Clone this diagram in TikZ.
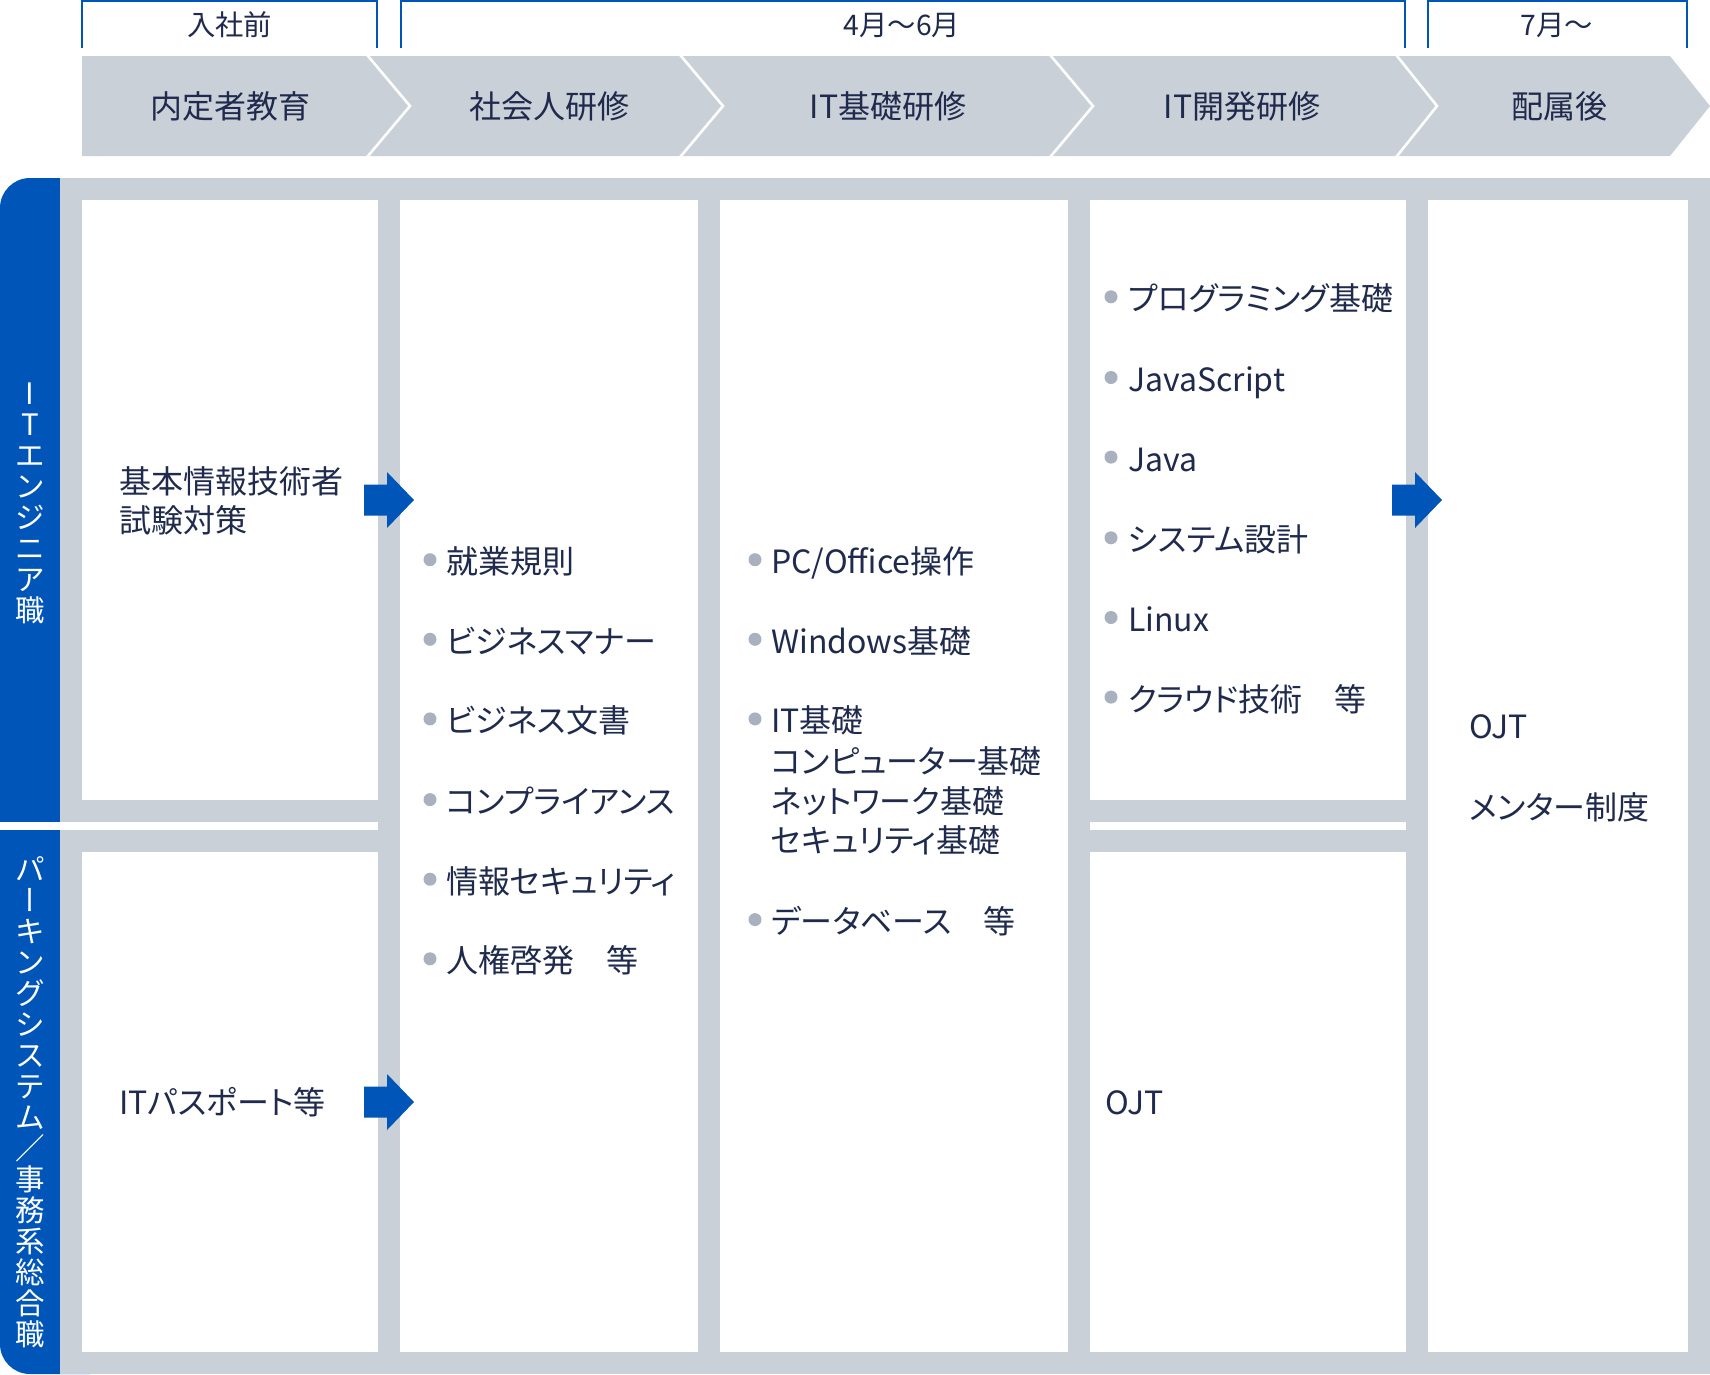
\documentclass[tikz,border=0pt]{standalone}
\usepackage{fontspec}
\usepackage{graphicx}
\setmainfont{Noto Sans CJK JP}
\newfontfamily\vertfont[RawFeature=+vert]{Noto Sans CJK JP}
\newfontfamily\bodyfont[RawFeature=+palt]{Noto Sans CJK JP}
\definecolor{bluec}{HTML}{0055B8}
\definecolor{greyc}{HTML}{C9D0D7}
\definecolor{navy}{HTML}{1F2A4D}
\definecolor{dotc}{HTML}{A9B0BE}
\newcommand\bitem[5]{%
  \fill[dotc] (#2,#4-2) circle[radius=6.5pt];
  \node[txt] (#1) at (#3,#4+12) {#5};}
\begin{document}
\begin{tikzpicture}[x=1pt,y=-1pt,
  txt/.style={anchor=base west, inner sep=0pt, text=navy, font=\bodyfont\fontsize{32}{40}\selectfont},
  lbl/.style={anchor=base, inner sep=0pt, text=navy, font=\fontsize{32}{40}\selectfont},
  blbl/.style={anchor=base, inner sep=0pt, text=navy, font=\fontsize{28.3}{34}\selectfont},
  brk/.style={draw=bluec, line width=2pt},
  vtxt/.style={align=center, inner sep=0pt, text=white, font=\fontsize{29.5}{31}\selectfont},
  sep/.style={draw=white, line width=2.6pt},
  wbox/.style={fill=white},
  barrow/.style={fill=bluec}]
\useasboundingbox (0,0) rectangle (1710,1374);
\fill[white] (0,0) rectangle (1710,1374);

% brackets
\draw[brk] (82,48) |- (377,1) -- (377,48);
\draw[brk] (401,48) |- (1405,1) -- (1405,48);
\draw[brk] (1428,48) |- (1687,1) -- (1687,48);
\node[blbl] (b1) at (229.5,35.5) {入社前};
\node[blbl] (b2) at (902,35.5) {4月～6月};
\node[blbl] (b3) at (1557,35.5) {7月～};

% chevron band
\fill[greyc] (82,56) -- (1670,56) -- (1710,106) -- (1670,156) -- (82,156) -- cycle;
\begin{scope}
\clip (82,56) rectangle (1710,156);
\draw[sep] (359.6,46) -- (410,106) -- (359.6,166);
\draw[sep] (672.6,46) -- (723,106) -- (672.6,166);
\draw[sep] (1042.6,46) -- (1093,106) -- (1042.6,166);
\draw[sep] (1389,46) -- (1437,106) -- (1389,166);
\end{scope}
\node[lbl] (c1) at (230,118) {内定者教育};
\node[lbl] (c2) at (549,118) {社会人研修};
\node[lbl] (c3) at (888,118) {IT基礎研修};
\node[lbl] (c4) at (1242,118) {IT開発研修};
\node[lbl] (c5) at (1559,118) {配属後};

% frame
\fill[bluec, rounded corners=30pt] (0,178) rectangle (120,1374);
\fill[greyc] (60,178) rectangle (1710,1374);
\fill[white] (0,822) rectangle (378,830);
\fill[white] (1090,822) rectangle (1406,830);

% white boxes
\fill[wbox] (82,200) rectangle (378,800);
\fill[wbox] (82,852) rectangle (378,1352);
\fill[wbox] (400,200) rectangle (698,1352);
\fill[wbox] (720,200) rectangle (1068,1352);
\fill[wbox] (1090,200) rectangle (1406,800);
\fill[wbox] (1090,852) rectangle (1406,1352);
\fill[wbox] (1428,200) rectangle (1688,1352);

% vertical labels
\node[vtxt] (tabA) at (30,503) {I\\T\\エ\\ン\\ジ\\ニ\\ア\\職};
\node[vtxt] (tabB) at (30,1102) {パ\\{\vertfont ー}\\キ\\ン\\グ\\シ\\ス\\テ\\ム\\／\\事\\務\\系\\総\\合\\職};

% blue arrows
\fill[barrow, shift={(364,500)}] (0,-15.5) -- (23,-15.5) -- (23,-28) -- (50,0) -- (23,28) -- (23,15.5) -- (0,15.5) -- cycle;
\fill[barrow, shift={(364,1102)}] (0,-15.5) -- (23,-15.5) -- (23,-28) -- (50,0) -- (23,28) -- (23,15.5) -- (0,15.5) -- cycle;
\fill[barrow, shift={(1392,500)}] (0,-15.5) -- (23,-15.5) -- (23,-28) -- (50,0) -- (23,28) -- (23,15.5) -- (0,15.5) -- cycle;

% column 1
\node[txt] (k1) at (119,481+12) {基本情報技術者};
\node[txt] (k2) at (119,520+12) {試験対策};
\node[txt] (k3) at (119,1102.6+12) {ITパスポート等};

% column 2
\bitem{s1}{430}{446}{561.7}{就業規則}
\bitem{s2}{430}{446}{641.3}{ビジネスマナー}
\bitem{s3}{430}{446}{720.9}{ビジネス文書}
\bitem{s4}{430}{446}{801.6}{コンプライアンス}
\bitem{s5}{430}{446}{881.2}{情報セキュリティ}
\bitem{s6}{430}{446}{960.8}{人権啓発　等}

% column 3
\bitem{t1}{755}{771}{561.7}{PC/Office操作}
\bitem{t2}{755}{771}{641.3}{Windows基礎}
\bitem{t3}{755}{771}{720.9}{IT基礎}
\node[txt] (t3b) at (771,761.2+12) {コンピューター基礎};
\node[txt] (t3c) at (771,801.6+12) {ネットワーク基礎};
\node[txt] (t3d) at (771,840.9+12) {セキュリティ基礎};
\bitem{t4}{755}{771}{921.6}{データベース　等}

% column 4
\bitem{u1}{1111}{1128}{298.8}{プログラミング基礎}
\bitem{u2}{1111}{1128}{379.5}{JavaScript}
\bitem{u3}{1111}{1128}{459.1}{Java}
\bitem{u4}{1111}{1128}{539.8}{システム設計}
\bitem{u5}{1111}{1128}{619.5}{Linux}
\bitem{u6}{1111}{1128}{699.1}{クラウド技術　等}
\node[txt] (u7) at (1105,1102.6+12) {OJT};

% column 5
\node[txt] (v1) at (1469,726.3+12) {OJT};
\node[txt] (v2) at (1469,807+12) {メンター制度};
\end{tikzpicture}
\end{document}
